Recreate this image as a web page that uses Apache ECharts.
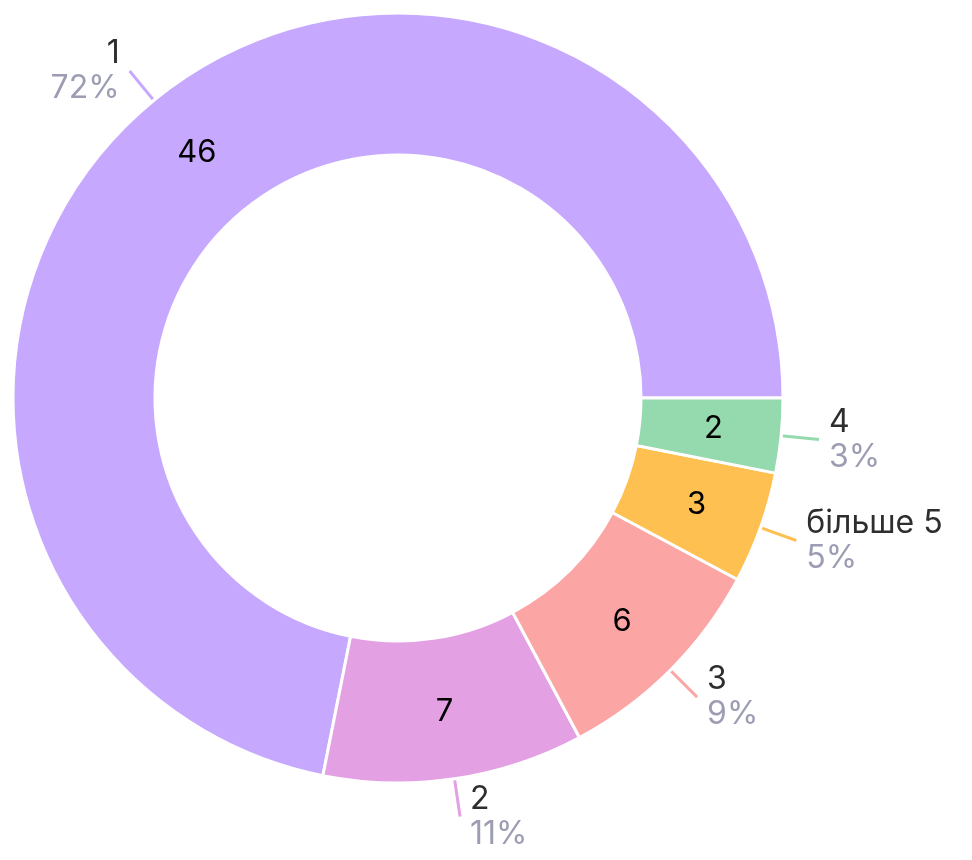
<!DOCTYPE html>
<html>
<head>
<meta charset="utf-8">
<script src="https://cdn.jsdelivr.net/npm/echarts@6/dist/echarts.min.js"></script>
<style>
    html, body { margin: 0; padding: 0; background: #fff; }
    #chart { width: 972px; height: 860px; }
</style>
</head>
<body>
<div id="chart"></div>
<script>
let names = ["1", "2", "3", "більше 5", "4"];
let values = [46, 7, 6, 3, 2];
let colors = ["#c6a8ff", "#e3a0e3", "#fca5a5", "#ffc052", "#95d9ae"];

let total = values.reduce((a, b) => a + b, 0);

function buildData() {
    return names.map(function (name, i) {
        return {
            name: name,
            value: values[i],
            itemStyle: { color: colors[i] }
        };
    });
}

let chart = echarts.init(document.getElementById("chart"));
let option = {
    animation: false,
    series: [
        {
            name: "outer",
            type: "pie",
            center: [398, 398],
            radius: [243, 385],
            startAngle: 0,
            clockwise: false,
            avoidLabelOverlap: false,
            silent: true,
            itemStyle: { borderColor: "#fff", borderWidth: 3 },
            label: {
                show: true,
                position: "outside",
                fontFamily: "Inter",
                distanceToLabelLine: 10,
                formatter: function (p) {
                    return "{n|" + p.name + "}\n{p|" + Math.round(p.value / total * 100) + "%}";
                },
                rich: {
                    n: { fontSize: 32, color: "#2e2e2e", fontFamily: "Inter", lineHeight: 35 },
                    p: { fontSize: 32, color: "#9c9db3", fontFamily: "Inter", lineHeight: 35 }
                }
            },
            labelLine: {
                show: true,
                length: 38,
                length2: 0,
                lineStyle: { width: 3 }
            },
            data: buildData()
        },
        {
            name: "inner",
            type: "pie",
            center: [398, 398],
            radius: [243, 385],
            startAngle: 0,
            clockwise: false,
            avoidLabelOverlap: false,
            silent: true,
            itemStyle: { borderColor: "#fff", borderWidth: 3 },
            label: {
                show: true,
                position: "inside",
                formatter: "{c}",
                fontFamily: "Inter",
                fontSize: 31,
                color: "#000"
            },
            labelLine: { show: false },
            data: buildData()
        }
    ]
};
chart.setOption(option);
</script>
</body>
</html>
